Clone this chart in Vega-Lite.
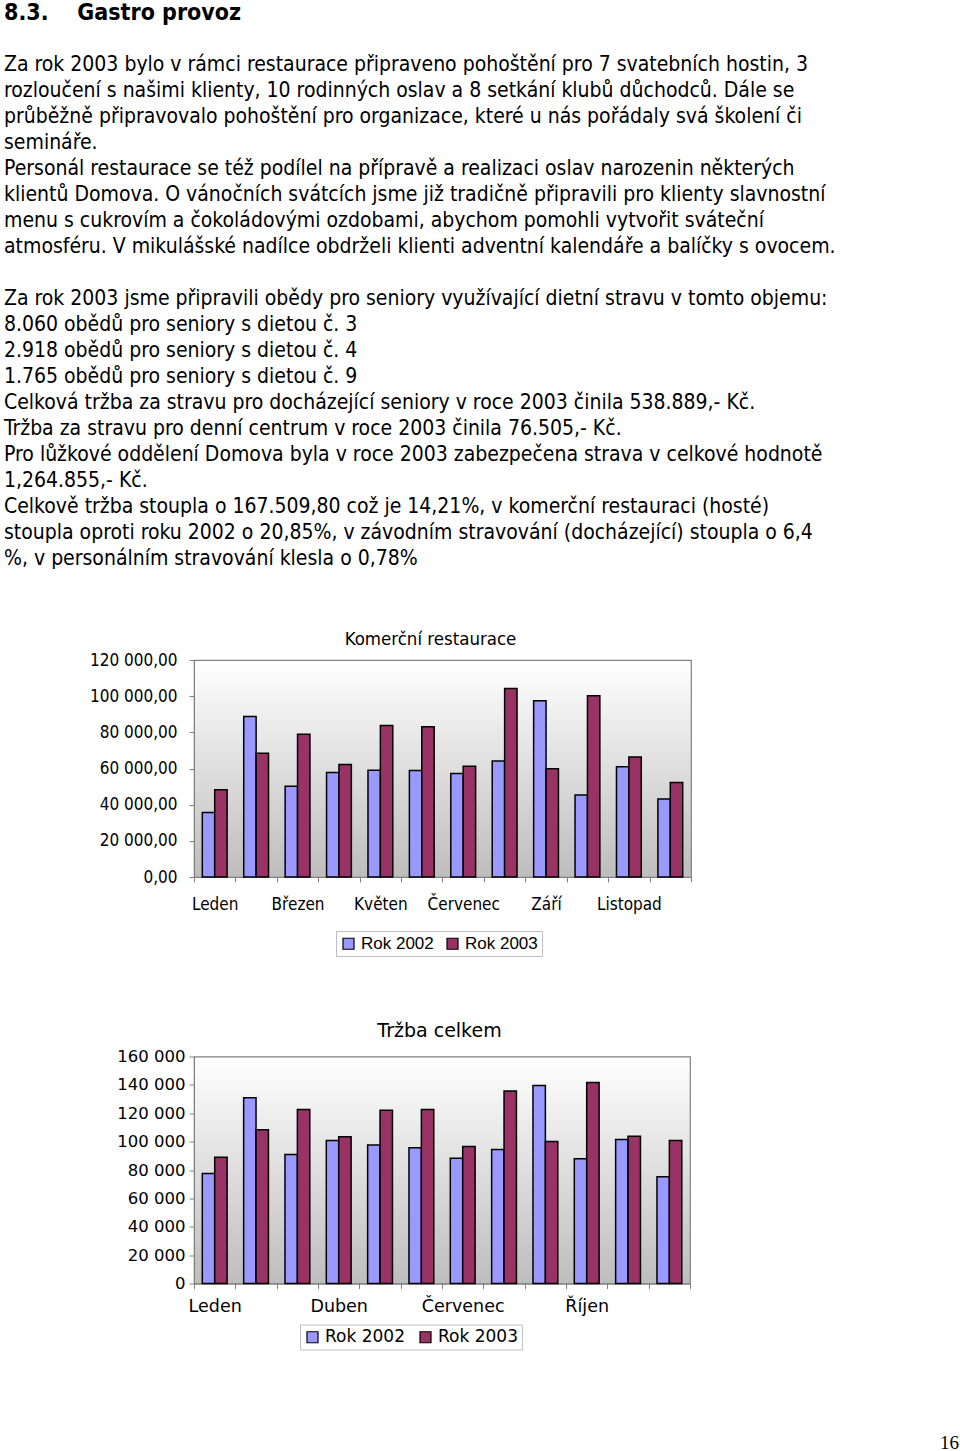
{
  "$schema": "https://vega.github.io/schema/vega-lite/v6.json",
  "padding": 0,
  "background": "white",
  "spacing": 59,
  "columns": 1,
  "align": "none",
  "resolve": {"scale": {"color": "independent"}, "legend": {"color": "independent"}},
  "config": {
    "view": {"stroke": null},
    "axis": {"labelColor": "black"}
  },
  "datasets": {
    "text": [
      {"line": 0, "kind": "heading", "text": "8.3.\u00a0\u00a0\u00a0\u00a0Gastro provoz"},
      {"line": 2, "kind": "body", "text": "Za rok 2003 bylo v rámci restaurace připraveno pohoštění pro 7 svatebních hostin, 3"},
      {"line": 3, "kind": "body", "text": "rozloučení s našimi klienty, 10 rodinných oslav a 8 setkání klubů důchodců. Dále se"},
      {"line": 4, "kind": "body", "text": "průběžně připravovalo pohoštění pro organizace, které u nás pořádaly svá školení či"},
      {"line": 5, "kind": "body", "text": "semináře."},
      {"line": 6, "kind": "body", "text": "\u00a0Personál restaurace se též podílel na přípravě a realizaci oslav narozenin některých"},
      {"line": 7, "kind": "body", "text": "klientů Domova. O vánočních svátcích jsme již tradičně připravili pro klienty slavnostní"},
      {"line": 8, "kind": "body", "text": "menu s cukrovím a čokoládovými ozdobami, abychom pomohli vytvořit sváteční"},
      {"line": 9, "kind": "body", "text": "atmosféru. V mikulášské nadílce obdrželi klienti adventní kalendáře a balíčky s ovocem."},
      {"line": 11, "kind": "body", "text": "Za rok 2003 jsme připravili obědy pro seniory využívající dietní stravu v tomto objemu:"},
      {"line": 12, "kind": "body", "text": "8.060 obědů pro seniory s dietou č. 3"},
      {"line": 13, "kind": "body", "text": "2.918 obědů pro seniory s dietou č. 4"},
      {"line": 14, "kind": "body", "text": "1.765 obědů pro seniory s dietou č. 9"},
      {"line": 15, "kind": "body", "text": "Celková tržba za stravu pro docházející seniory v roce 2003 činila 538.889,- Kč."},
      {"line": 16, "kind": "body", "text": "Tržba za stravu pro denní centrum v roce 2003 činila 76.505,- Kč."},
      {"line": 17, "kind": "body", "text": "Pro lůžkové oddělení Domova byla v roce 2003 zabezpečena strava v celkové hodnotě"},
      {"line": 18, "kind": "body", "text": "1,264.855,- Kč."},
      {"line": 19, "kind": "body", "text": "Celkově tržba stoupla o 167.509,80 což je 14,21%, v komerční restauraci (hosté)"},
      {"line": 20, "kind": "body", "text": "stoupla oproti roku 2002 o 20,85%, v závodním stravování (docházející) stoupla o 6,4"},
      {"line": 21, "kind": "body", "text": "%, v personálním stravování klesla o 0,78%"}
    ],
    "restaurace": [
      {"month": "Leden", "year": "Rok 2002", "value": 35600},
      {"month": "Leden", "year": "Rok 2003", "value": 48200},
      {"month": "Únor", "year": "Rok 2002", "value": 88800},
      {"month": "Únor", "year": "Rok 2003", "value": 68500},
      {"month": "Březen", "year": "Rok 2002", "value": 50200},
      {"month": "Březen", "year": "Rok 2003", "value": 79000},
      {"month": "Duben", "year": "Rok 2002", "value": 57800},
      {"month": "Duben", "year": "Rok 2003", "value": 62200},
      {"month": "Květen", "year": "Rok 2002", "value": 59100},
      {"month": "Květen", "year": "Rok 2003", "value": 83800},
      {"month": "Červen", "year": "Rok 2002", "value": 58900},
      {"month": "Červen", "year": "Rok 2003", "value": 83100},
      {"month": "Červenec", "year": "Rok 2002", "value": 57200},
      {"month": "Červenec", "year": "Rok 2003", "value": 61300},
      {"month": "Srpen", "year": "Rok 2002", "value": 64100},
      {"month": "Srpen", "year": "Rok 2003", "value": 104300},
      {"month": "Září", "year": "Rok 2002", "value": 97500},
      {"month": "Září", "year": "Rok 2003", "value": 59800},
      {"month": "Říjen", "year": "Rok 2002", "value": 45400},
      {"month": "Říjen", "year": "Rok 2003", "value": 100200},
      {"month": "Listopad", "year": "Rok 2002", "value": 60900},
      {"month": "Listopad", "year": "Rok 2003", "value": 66300},
      {"month": "Prosinec", "year": "Rok 2002", "value": 43200},
      {"month": "Prosinec", "year": "Rok 2003", "value": 52200}
    ],
    "celkem": [
      {"month": "Leden", "year": "Rok 2002", "value": 77600},
      {"month": "Leden", "year": "Rok 2003", "value": 89000},
      {"month": "Únor", "year": "Rok 2002", "value": 131000},
      {"month": "Únor", "year": "Rok 2003", "value": 108300},
      {"month": "Březen", "year": "Rok 2002", "value": 90900},
      {"month": "Březen", "year": "Rok 2003", "value": 122700},
      {"month": "Duben", "year": "Rok 2002", "value": 100800},
      {"month": "Duben", "year": "Rok 2003", "value": 103400},
      {"month": "Květen", "year": "Rok 2002", "value": 97700},
      {"month": "Květen", "year": "Rok 2003", "value": 122200},
      {"month": "Červen", "year": "Rok 2002", "value": 95600},
      {"month": "Červen", "year": "Rok 2003", "value": 122700},
      {"month": "Červenec", "year": "Rok 2002", "value": 88300},
      {"month": "Červenec", "year": "Rok 2003", "value": 96500},
      {"month": "Srpen", "year": "Rok 2002", "value": 94400},
      {"month": "Srpen", "year": "Rok 2003", "value": 135700},
      {"month": "Září", "year": "Rok 2002", "value": 139500},
      {"month": "Září", "year": "Rok 2003", "value": 100100},
      {"month": "Říjen", "year": "Rok 2002", "value": 88000},
      {"month": "Říjen", "year": "Rok 2003", "value": 141600},
      {"month": "Listopad", "year": "Rok 2002", "value": 101500},
      {"month": "Listopad", "year": "Rok 2003", "value": 103800},
      {"month": "Prosinec", "year": "Rok 2002", "value": 75300},
      {"month": "Prosinec", "year": "Rok 2003", "value": 100800}
    ],
    "page": [{"page": "16"}]
  },
  "concat": [
    {
      "width": 766,
      "height": 566,
      "data": {"name": "text"},
      "layer": [
        {
          "transform": [{"filter": "datum.kind === 'heading'"}],
          "mark": {"type": "text", "align": "left", "baseline": "middle", "font": "DejaVu Sans Condensed, DejaVu Sans", "fontSize": 23, "fontWeight": "bold", "color": "black"},
          "encoding": {
            "x": {"value": -190},
            "y": {"field": "line", "type": "quantitative", "scale": {"domain": [-0.5, 21.27], "nice": false, "zero": false, "reverse": true}, "axis": null},
            "text": {"field": "text"}
          }
        },
        {
          "transform": [{"filter": "datum.kind === 'body'"}],
          "mark": {"type": "text", "align": "left", "baseline": "middle", "font": "DejaVu Sans Condensed, DejaVu Sans", "fontSize": 21, "color": "black"},
          "encoding": {
            "x": {"value": -190},
            "y": {"field": "line", "type": "quantitative", "axis": null},
            "text": {"field": "text"}
          }
        }
      ]
    },
    {
      "spacing": 62.5,
      "resolve": {"scale": {"color": "independent"}, "legend": {"color": "independent"}},
      "vconcat": [
        {
          "width": 497,
          "height": 217,
          "view": {"stroke": "#808080", "strokeWidth": 1.2, "fill": {"gradient": "linear", "x1": 0, "y1": 0, "x2": 0, "y2": 1, "stops": [{"offset": 0, "color": "#ffffff"}, {"offset": 1, "color": "#bdbdbd"}]}},
          "title": {"text": "Komerční restaurace", "font": "DejaVu Sans Condensed, DejaVu Sans", "fontSize": 18.5, "fontWeight": "normal", "color": "black", "offset": 3, "dx": -12},
          "data": {"name": "restaurace"},
          "mark": {"type": "bar", "stroke": "black", "strokeWidth": 1.5},
          "encoding": {
            "x": {
              "field": "month", "type": "nominal", "title": null,
              "sort": ["Leden", "Únor", "Březen", "Duben", "Květen", "Červen", "Červenec", "Srpen", "Září", "Říjen", "Listopad", "Prosinec"],
              "scale": {"paddingInner": 0, "paddingOuter": 0},
              "axis": {"labelExpr": "indexof(['Leden','Březen','Květen','Červenec','Září','Listopad'], datum.value) >= 0 ? datum.value : ''", "labelAngle": 0, "labelOverlap": false, "tickBand": "extent", "tickSize": 5, "tickColor": "#808080", "domainColor": "#808080", "labelFont": "DejaVu Sans Condensed, DejaVu Sans", "labelFontSize": 17, "labelPadding": 14, "labelBaseline": "top"}
            },
            "xOffset": {"field": "year", "type": "nominal", "scale": {"paddingInner": 0, "paddingOuter": 0.67}},
            "y": {
              "field": "value", "type": "quantitative", "title": null,
              "scale": {"domain": [0, 120000], "nice": false},
              "axis": {"values": [0, 20000, 40000, 60000, 80000, 100000, 120000], "labelExpr": "replace(replace(format(datum.value, ',.2f'), ',', ' '), '.', ',')", "grid": false, "tickSize": 5, "tickColor": "#808080", "domainColor": "#808080", "labelFont": "DejaVu Sans Condensed, DejaVu Sans", "labelFontSize": 17, "labelPadding": 12, "minExtent": 193, "maxExtent": 193}
            },
            "color": {
              "field": "year", "type": "nominal",
              "scale": {"domain": ["Rok 2002", "Rok 2003"], "range": ["#9999ff", "#993366"]},
              "legend": {"title": null, "orient": "none", "legendX": 142, "legendY": 271, "direction": "horizontal", "symbolType": "square", "symbolSize": 121, "symbolStrokeColor": "black", "symbolStrokeWidth": 1.2, "labelFont": "Liberation Sans", "labelFontSize": 17, "labelColor": "black", "labelOffset": 4, "columnPadding": 10, "padding": 4, "strokeColor": "#c0c0c0", "fillColor": "white"}
            }
          }
        },
        {
          "width": 496,
          "height": 227,
          "view": {"stroke": "#808080", "strokeWidth": 1.2, "fill": {"gradient": "linear", "x1": 0, "y1": 0, "x2": 0, "y2": 1, "stops": [{"offset": 0, "color": "#ffffff"}, {"offset": 1, "color": "#bdbdbd"}]}},
          "title": {"text": "Tržba celkem", "font": "DejaVu Sans", "fontSize": 19, "fontWeight": "normal", "color": "black", "offset": 7.5, "dx": -2.5},
          "data": {"name": "celkem"},
          "mark": {"type": "bar", "stroke": "black", "strokeWidth": 1.5},
          "encoding": {
            "x": {
              "field": "month", "type": "nominal", "title": null,
              "sort": ["Leden", "Únor", "Březen", "Duben", "Květen", "Červen", "Červenec", "Srpen", "Září", "Říjen", "Listopad", "Prosinec"],
              "scale": {"paddingInner": 0, "paddingOuter": 0},
              "axis": {"labelExpr": "indexof(['Leden','Duben','Červenec','Říjen'], datum.value) >= 0 ? datum.value : ''", "labelAngle": 0, "labelOverlap": false, "tickBand": "extent", "tickSize": 5, "tickColor": "#808080", "domainColor": "#808080", "labelFont": "DejaVu Sans", "labelFontSize": 17.5, "labelPadding": 9, "labelBaseline": "top"}
            },
            "xOffset": {"field": "year", "type": "nominal", "scale": {"paddingInner": 0, "paddingOuter": 0.67}},
            "y": {
              "field": "value", "type": "quantitative", "title": null,
              "scale": {"domain": [0, 160000], "nice": false},
              "axis": {"values": [0, 20000, 40000, 60000, 80000, 100000, 120000, 140000, 160000], "labelExpr": "replace(format(datum.value, ',d'), ',', ' ')", "grid": false, "tickSize": 5, "tickColor": "#808080", "domainColor": "#808080", "labelFont": "DejaVu Sans", "labelFontSize": 16.5, "labelPadding": 4, "minExtent": 193, "maxExtent": 193}
            },
            "color": {
              "field": "year", "type": "nominal",
              "scale": {"domain": ["Rok 2002", "Rok 2003"], "range": ["#9999ff", "#993366"]},
              "legend": {"title": null, "orient": "none", "legendX": 106, "legendY": 268, "direction": "horizontal", "symbolType": "square", "symbolSize": 121, "symbolStrokeColor": "black", "symbolStrokeWidth": 1.2, "labelFont": "DejaVu Sans", "labelFontSize": 17, "labelColor": "black", "labelOffset": 4, "columnPadding": 12, "padding": 4, "strokeColor": "#c0c0c0", "fillColor": "white"}
            }
          }
        }
      ]
    },
    {
      "width": 766,
      "height": 40,
      "data": {"name": "page"},
      "mark": {"type": "text", "align": "right", "baseline": "middle", "font": "Liberation Serif", "fontSize": 19, "color": "black"},
      "encoding": {
        "x": {"value": 765},
        "y": {"value": 32.5},
        "text": {"field": "page"}
      }
    }
  ]
}
